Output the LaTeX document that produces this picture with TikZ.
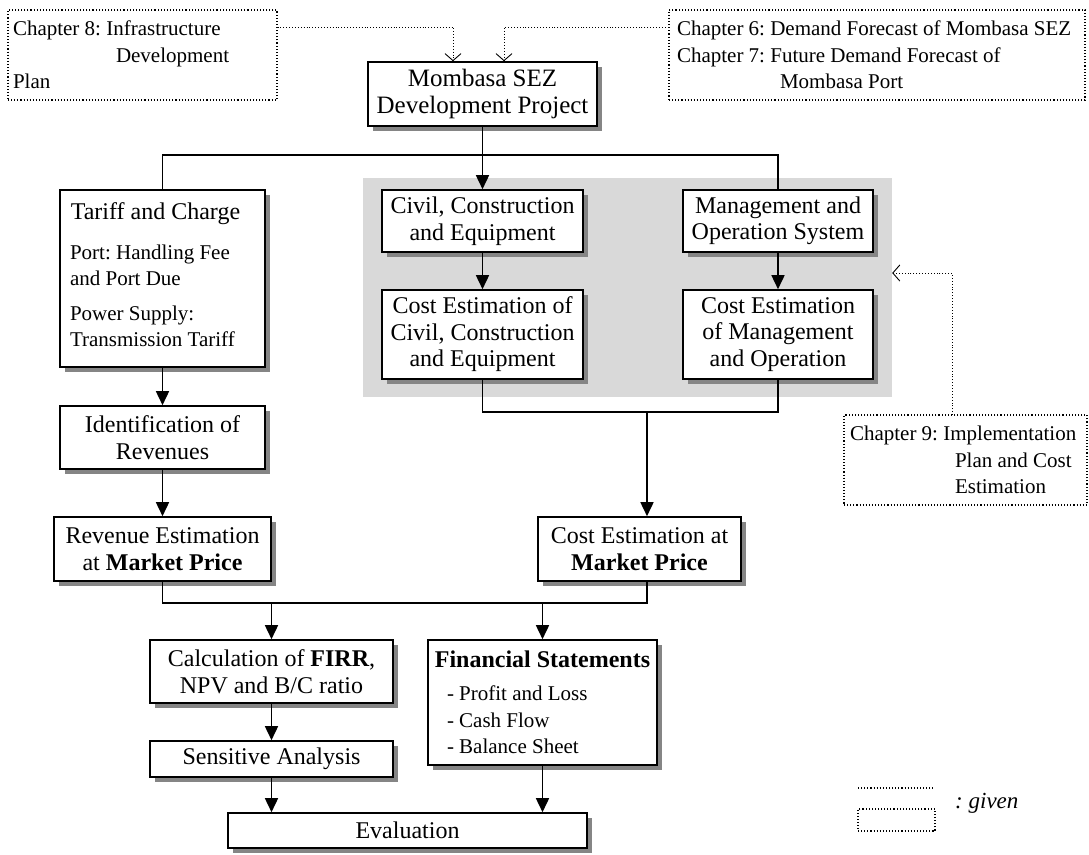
\documentclass[tikz,border=0pt]{standalone}
\usepackage{fontspec}
\setmainfont{Liberation Serif}
\usetikzlibrary{arrows.meta,shadows}
\frenchspacing

\begin{document}
\begin{tikzpicture}[x=1pt,y=-1pt,
  fbig/.style={font=\fontsize{25}{27}\selectfont},
  fmid/.style={font=\fontsize{24}{26.5}\selectfont},
  fnote/.style={font=\fontsize{21}{26.5}\selectfont},
  box/.style={draw=black, line width=1.6pt, fill=white, inner sep=0pt, align=center,
    drop shadow={shadow xshift=5pt, shadow yshift=-5pt, fill=black!48, opacity=1}},
  given/.style={draw=black, line width=1.1pt, dotted, inner sep=0pt},
  flow/.style={line width=1.6pt, -{Triangle[length=14pt,width=13pt]}},
  link/.style={line width=1.6pt},
  feed/.style={line width=0.9pt, dotted, -{Straight Barb[length=7pt,width=16pt,line width=0.9pt]}}
]
\useasboundingbox (0,0) rectangle (1089,854);

% shaded group behind the cost blocks
\node[fill=black!15, minimum width=529pt, minimum height=219pt, inner sep=0pt] (costgroup) at (627.5,287.5) {};

% given inputs (dotted frames)
\node[given, fnote, minimum width=269pt, minimum height=90pt] (ch8) at (142.5,55)
  {\parbox{259pt}{\raggedright Chapter 8: Infrastructure\\\hspace*{103pt}Development\\Plan}};
\node[given, fnote, minimum width=416pt, minimum height=90pt] (ch67) at (877,55)
  {\parbox{400pt}{\raggedright Chapter 6: Demand Forecast of Mombasa SEZ\\Chapter 7: Future Demand Forecast of\\\hspace*{103pt}Mombasa Port}};
\node[given, fnote, minimum width=243pt, minimum height=90pt] (ch9) at (965.5,460)
  {\parbox{231pt}{\raggedright Chapter 9: Implementation\\\hspace*{105pt}Plan and Cost\\\hspace*{105pt}Estimation}};

% project
\node[box, fbig, minimum width=229pt, minimum height=64pt] (msez) at (482.5,94)
  {Mombasa SEZ\\Development Project};

% revenue side
\node[box, minimum width=205pt, minimum height=177pt] (tariff) at (162.5,278.5)
  {\parbox{185pt}{\raggedright
   \makebox[171pt][c]{\fontsize{24}{27}\selectfont Tariff and Charge}\par\vspace{14pt}%
   \fontsize{21}{26}\selectfont Port: Handling Fee\\and Port Due\par\vspace{9pt}%
   Power Supply:\\Transmission Tariff\par\vspace{8pt}}};
\node[box, fmid, minimum width=205pt, minimum height=63pt] (ident) at (162.5,437.5)
  {Identification of\\Revenues};
\node[box, fmid, minimum width=217pt, minimum height=64pt] (revenue) at (162.5,549)
  {Revenue Estimation\\at \textbf{Market Price}};

% cost side
\node[box, fmid, minimum width=201pt, minimum height=62pt] (civil) at (482.5,221)
  {Civil, Construction\\and Equipment};
\node[box, fmid, minimum width=190pt, minimum height=62pt] (mgmt) at (778,221)
  {Management and\\Operation System};
\node[box, fmid, minimum width=201pt, minimum height=89pt] (ccivil) at (482.5,334.5)
  {Cost Estimation of\\Civil, Construction\\and Equipment};
\node[box, fmid, minimum width=190pt, minimum height=89pt] (cmgmt) at (778,334.5)
  {Cost Estimation\\of Management\\and Operation};
\node[box, fmid, minimum width=203pt, minimum height=64pt] (cmarket) at (639.5,549)
  {Cost Estimation at\\\textbf{Market Price}};

% financial analysis
\node[box, fmid, minimum width=243pt, minimum height=63pt] (calc) at (271.5,671.5)
  {Calculation of \textbf{FIRR},\\NPV and B/C ratio};
\node[box, minimum width=229pt, minimum height=125pt] (fin) at (542.5,702.5)
  {\parbox{219pt}{\raggedright
   \makebox[219pt][c]{\fontsize{24}{27}\selectfont\bfseries Financial Statements}\par\vspace{7pt}%
   \fontsize{21}{26.5}\selectfont
   \hspace*{14pt}- Profit and Loss\\\hspace*{14pt}- Cash Flow\\\hspace*{14pt}- Balance Sheet}};
\node[box, fmid, minimum width=243pt, minimum height=36pt] (sens) at (271.5,759)
  {Sensitive Analysis};
\node[box, fmid, minimum width=359pt, minimum height=35pt] (eval) at (407.5,830.5)
  {Evaluation};

% junction points
\coordinate (split) at (482.5,155);
\coordinate (merge) at (647,412);
\coordinate (join) at (647,603);

% main flow
\draw[flow] (msez) -- (civil);
\draw[link] (tariff.north) |- (split) -| (mgmt.north);
\draw[flow] (tariff) -- (ident);
\draw[flow] (ident) -- (revenue);
\draw[flow] (civil) -- (ccivil);
\draw[flow] (mgmt) -- (cmgmt);
\draw[link] (ccivil.south) |- (merge) -| (cmgmt.south);
\draw[flow] (merge) -- (merge |- cmarket.north);
\draw[link] (revenue.south) |- (join) -- (join |- cmarket.south);
\draw[flow] (calc.north |- join) -- (calc.north);
\draw[flow] (fin.north |- join) -- (fin.north);
\draw[flow] (calc) -- (sens);
\draw[flow] (sens.south) -- (sens.south |- eval.north);
\draw[flow] (fin.south) -- (fin.south |- eval.north);

% given inputs feeding in
\draw[feed] (ch8.east |- 0,27) -| ([xshift=-29.5pt]msez.north);
\draw[feed] (ch67.west |- 0,27) -| ([xshift=21.5pt]msez.north);
\draw[feed] (952,415) |- (costgroup.east |- 0,273);

% legend
\coordinate (lgA) at (858,788);
\coordinate (lgB) at (933,788);
\draw[line width=1.1pt, dotted] (lgA) -- (lgB);
\node[given, minimum width=77pt, minimum height=22pt] (lgbox) at (896.5,820) {};
\node[anchor=west, inner sep=0pt, font=\fontsize{23}{26}\selectfont\itshape] (lgtext) at (955,803) {: given};
\end{tikzpicture}
\end{document}
